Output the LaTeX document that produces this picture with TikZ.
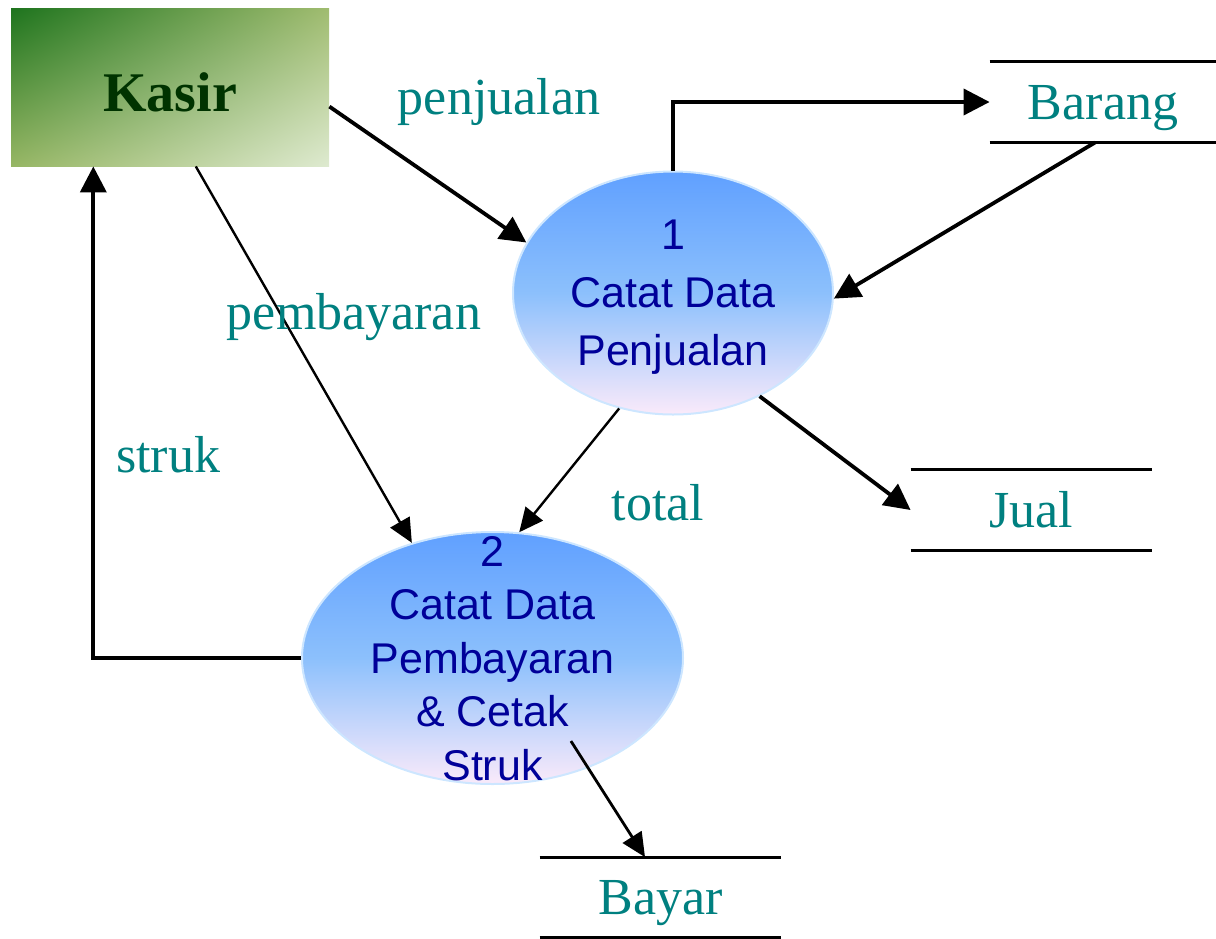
\documentclass[tikz,border=0pt]{standalone}
\usepackage{fontspec}
\setmainfont{Liberation Serif}
\setsansfont{Liberation Sans}
\usetikzlibrary{shapes.geometric,arrows.meta,calc,shadings}

\definecolor{labelteal}{RGB}{0,128,128}
\definecolor{kasirtext}{RGB}{0,51,0}
\definecolor{proctext}{RGB}{0,0,153}
\definecolor{gdark}{RGB}{30,116,30}
\definecolor{gmidA}{RGB}{160,188,112}
\definecolor{gmidB}{RGB}{150,182,100}
\definecolor{glight}{RGB}{222,234,208}
\definecolor{btop}{RGB}{96,160,255}
\definecolor{bmid}{RGB}{140,192,252}
\definecolor{bbot}{RGB}{250,234,250}
\definecolor{bedge}{RGB}{205,230,255}

\begin{document}
\begin{tikzpicture}[x=0.5pt,y=-0.5pt,
  entity/.style={rectangle, minimum width=159pt, minimum height=79pt, inner sep=0pt,
    upper left=gdark, upper right=gmidA, lower left=gmidB, lower right=glight,
    text=kasirtext, font=\fontsize{28}{30}\selectfont\bfseries,
    text height=24.5pt, text depth=0pt},
  process/.style={ellipse, inner sep=0pt, top color=btop, bottom color=bbot,
    middle color=bmid, draw=bedge, line width=1pt},
  proclabel/.style={align=center, text=proctext, inner sep=0pt, text depth=0pt},
  store/.style={rectangle, minimum height=40pt, inner sep=0pt, text=labelteal,
    font=\fontsize{26}{28}\selectfont, text height=17.2pt, text depth=0pt},
  storeline/.style={line width=1.5pt},
  flowlabel/.style={text=labelteal, font=\fontsize{26}{28}\selectfont,
    inner sep=0pt, anchor=base},
  thickflow/.style={line width=1.9pt, -{Triangle[length=13pt,width=13pt]}},
  thinflow/.style={line width=1.2pt, -{Triangle[length=12pt,width=11pt]}},
]
\useasboundingbox (0,0) rectangle (1216,938);

% external entity
\node[entity] (kasir) at (170,87) {Kasir};

% processes
\node[process, minimum width=160pt, minimum height=121.5pt] (p1) at (673,293) {};
\node[process, minimum width=190.5pt, minimum height=126pt] (p2) at (492.5,658) {};

% data stores
\node[store, minimum width=113pt] (barang) at (1103,102) {Barang};
\node[store, minimum width=120.5pt] (jual) at (1031.5,510) {Jual};
\node[store, minimum width=120.5pt] (bayar) at (660.5,897.5) {Bayar};
\foreach \s in {barang,jual,bayar}{
  \draw[storeline] (\s.north west) -- (\s.north east)
                   (\s.south west) -- (\s.south east);
}

% data flows
\draw[thickflow] (kasir.-7.9) -- (p1.161.4);
\draw[thinflow] (kasir.-72.4) -- (p2.125);
\draw[thickflow] (p2.west) -| (kasir.-134.6);
\draw[thickflow] (p1.north) |- (barang.west);
\draw[thickflow] (barang.-101.3) -- (p1.-2.5);
\draw[thickflow] (p1.-50.5) -- (jual.west);
\draw[thinflow] (p1.-115.2) -- (p2.78.3);
\draw[thinflow, line width=1.4pt, shorten <=-16pt] (p2.-49.6) -- (bayar.111.2);

% process texts
\node[proclabel, font=\sffamily\fontsize{21.5}{29}\selectfont] (p1text) at (p1.center)
  {1\\Catat Data\\Penjualan};
\node[proclabel, font=\sffamily\fontsize{21.5}{26.75}\selectfont] (p2text) at (p2.center)
  {2\\Catat Data\\Pembayaran\\\& Cetak\\Struk};

% flow labels
\node[flowlabel] (lpenjualan) at (499,114) {penjualan};
\node[flowlabel] (lpembayaran) at (354,329) {pembayaran};
\node[flowlabel] (lstruk) at (168,472) {struk};
\node[flowlabel] (ltotal) at (658,520) {total};
\end{tikzpicture}
\end{document}
